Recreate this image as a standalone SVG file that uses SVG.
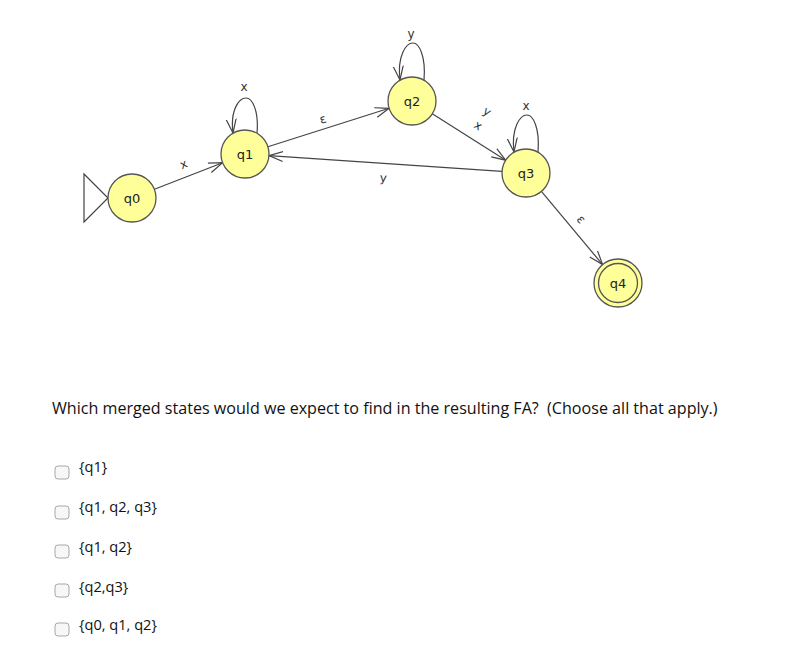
<svg xmlns="http://www.w3.org/2000/svg" width="796" height="657" viewBox="0 0 796 657">
<style>
.node circle{fill:#ffff99;stroke:#555;stroke-width:1.3}
.nl{font-family:"DejaVu Sans",sans-serif;font-size:13px;fill:#222;text-anchor:middle}
.edge{fill:none;stroke:#444;stroke-width:1.2}
.el{font-family:"DejaVu Sans",sans-serif;font-size:12px;fill:#333;text-anchor:middle}
.q{font-family:"Open Sans",sans-serif;font-size:16.1px;fill:#111}
.opt{font-family:"Open Sans",sans-serif;font-size:14.6px;fill:#111}
.cb{fill:#f7f7f7;stroke:#a8a8a8;stroke-width:1}
</style>
<defs>
<marker id="arr" markerUnits="userSpaceOnUse" markerWidth="16" markerHeight="12" viewBox="0 -6 16 12" refX="14" refY="0" orient="auto">
<path d="M0,-5 L14,0 L0,5" fill="none" stroke="#444" stroke-width="1.2"/>
</marker>
</defs>
<rect width="796" height="657" fill="#fff"/>
<g id="connectors">
<path class="edge" d="M154.4,189.3 L222.6,162.7" marker-end="url(#arr)"/>
<text class="el" transform="translate(185,168) rotate(-21.3)">x</text>
<path class="edge" d="M257,133 C259,110 252,98 246,98 C239,98 230,110 233,133" marker-end="url(#arr)"/>
<text class="el" x="244" y="91">x</text>
<path class="edge" d="M424,80 C426,56 419,43 413,43 C406,43 397,56 400,80" marker-end="url(#arr)"/>
<text class="el" x="411" y="38">y</text>
<path class="edge" d="M267.9,146.7 L389.1,108.3" marker-end="url(#arr)"/>
<text class="el" transform="translate(324,123) rotate(-17.6)">ε</text>
<path class="edge" d="M538,152 C540,128 533,115 527,115 C520,115 511,128 514,152" marker-end="url(#arr)"/>
<text class="el" x="526" y="110">x</text>
<path class="edge" d="M432.3,113.8 L505.7,160.2" marker-end="url(#arr)"/>
<text class="el" transform="translate(476,129) rotate(32.3)">x</text>
<text class="el" transform="translate(485,115) rotate(32.3)">y</text>
<path class="edge" d="M502,171.4 L269,155.6" marker-end="url(#arr)"/>
<text class="el" transform="translate(383,182) rotate(3.9)">y</text>
<path class="edge" d="M541.4,191.4 L602.6,264.6" marker-end="url(#arr)"/>
<text class="el" transform="translate(578,222) rotate(50)">ε</text>
</g>
<g id="q0" class="node">
<path d="M84,174 L108,198 L84,222 Z" fill="none" stroke="#444" stroke-width="1.2"/>
<circle cx="132" cy="198" r="24"/>
<text class="nl" x="132" y="203">q0</text>
</g>
<g id="q1" class="node">
<circle cx="245" cy="154" r="24"/>
<text class="nl" x="245" y="159">q1</text>
</g>
<g id="q2" class="node">
<circle cx="412" cy="101" r="24"/>
<text class="nl" x="412" y="106">q2</text>
</g>
<g id="q3" class="node">
<circle cx="526" cy="173" r="24"/>
<text class="nl" x="526" y="178">q3</text>
</g>
<g id="q4" class="node">
<circle cx="618" cy="283" r="24"/>
<circle cx="618" cy="283" r="19.5"/>
<text class="nl" x="618" y="288">q4</text>
</g>
<text class="q" x="52" y="414" xml:space="preserve">Which merged states would we expect to find in the resulting FA?  (Choose all that apply.)</text>
<g id="options">
<rect class="cb" x="55" y="466" width="14" height="13" rx="3"/>
<text class="opt" x="79" y="472">{q1}</text>
<rect class="cb" x="55" y="506" width="14" height="13" rx="3"/>
<text class="opt" x="79" y="512">{q1, q2, q3}</text>
<rect class="cb" x="55" y="545" width="14" height="13" rx="3"/>
<text class="opt" x="79" y="552">{q1, q2}</text>
<rect class="cb" x="55" y="584" width="14" height="13" rx="3"/>
<text class="opt" x="79" y="592">{q2,q3}</text>
<rect class="cb" x="55" y="623" width="14" height="13" rx="3"/>
<text class="opt" x="79" y="630">{q0, q1, q2}</text>
</g>
</svg>
